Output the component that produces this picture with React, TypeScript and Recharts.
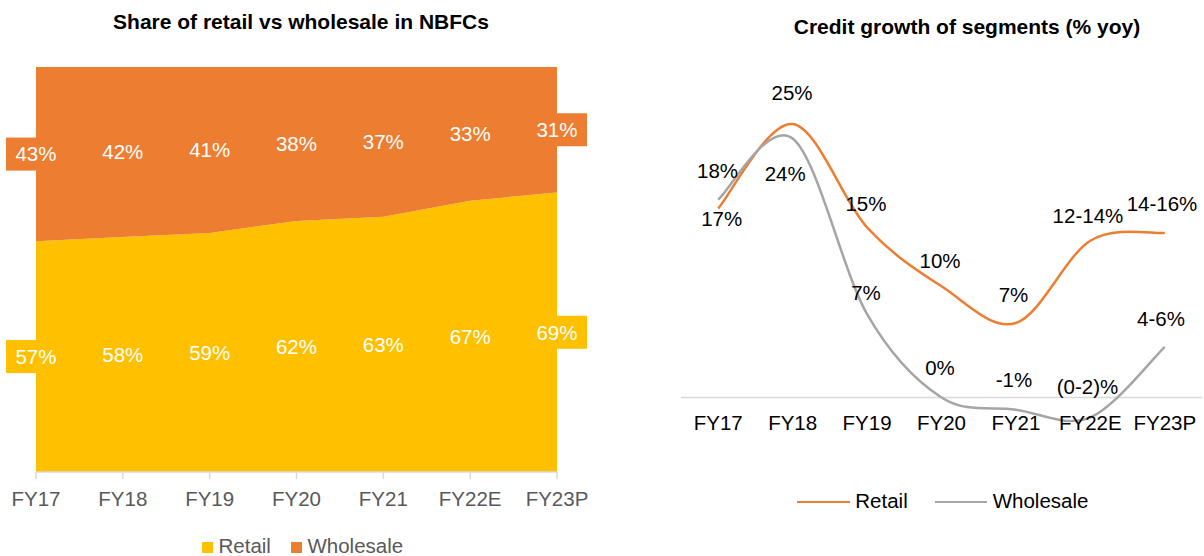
import React from 'react';
import { ComposedChart, Area, Line, XAxis, YAxis, Legend, LabelList, ReferenceLine } from 'recharts';

// ---------- data ----------
const years = ['FY17', 'FY18', 'FY19', 'FY20', 'FY21', 'FY22E', 'FY23P'];
const retailShare = [57, 58, 59, 62, 63, 67, 69];
const wholesaleShare = [43, 42, 41, 38, 37, 33, 31];

const retailGrowth = [17, 24.6, 15.3, 10, 6.7, 14.1, 14.8];
const wholesaleGrowth = [17.8, 23.3, 7.5, 0, -1.1, -1.8, 4.55];
const retailGrowthLabels = ['17%', '25%', '15%', '10%', '7%', '12-14%', '14-16%'];
const wholesaleGrowthLabels = ['18%', '24%', '7%', '0%', '-1%', '(0-2)%', '4-6%'];

const shareData = years.map((y, i) => ({
  year: y,
  retail: retailShare[i],
  wholesale: wholesaleShare[i],
  retailMid: retailShare[i] / 2,
  wholesaleMid: retailShare[i] + wholesaleShare[i] / 2,
}));

const growthData = years.map((y, i) => ({
  year: y,
  retail: retailGrowth[i],
  wholesale: wholesaleGrowth[i],
}));

// ---------- styles ----------
const FONT = "'Liberation Sans', Arial, sans-serif";
const YELLOW = '#FFC000';
const ORANGE = '#ED7D31';
const GRAY = '#A5A5A5';
const AXIS = '#D9D9D9';
const FS = 20.5;

// label placement (dx, dy of text centre relative to the point)
const retailLabelOffset: [number, number][] = [[3.5, 10.5], [-0.6, -31], [-1.1, -23.7], [-1.5, -25.6], [-2.4, -28.4], [-2.4, -25.2], [-2.8, -28.9]];
const wholesaleLabelOffset: [number, number][] = [[-0.7, -28.9], [-7.5, 35.6], [-1.1, -21], [-1.5, -29.9], [-1.9, -29.6], [-2.9, -30.7], [-3.8, -28.1]];

// Excel-like smoothed line (Catmull-Rom through points)
const excelSmooth: any = (context: any) => {
  let pts: [number, number][] = [];
  return {
    areaStart() {},
    areaEnd() {},
    lineStart() { pts = []; },
    point(x: number, y: number) { pts.push([+x, +y]); },
    lineEnd() {
      if (!pts.length) return;
      context.moveTo(pts[0][0], pts[0][1]);
      for (let i = 0; i < pts.length - 1; i++) {
        const p0 = pts[Math.max(0, i - 1)];
        const p1 = pts[i];
        const p2 = pts[i + 1];
        const p3 = pts[Math.min(pts.length - 1, i + 2)];
        context.bezierCurveTo(
          p1[0] + (p2[0] - p0[0]) / 6, p1[1] + (p2[1] - p0[1]) / 6,
          p2[0] - (p3[0] - p1[0]) / 6, p2[1] - (p3[1] - p1[1]) / 6,
          p2[0], p2[1]
        );
      }
    },
  };
};

const px = (p: any) => (p.x ?? p.viewBox?.x) as number;
const py = (p: any) => (p.y ?? p.viewBox?.y) as number;

const makeShareLabel = (values: number[], fill: string) => (p: any) => {
  const x = px(p);
  const y = py(p);
  const i = p.index;
  return (
    <g key={`sl-${fill}-${i}`}>
      <rect x={x - 30} y={y - 16.5} width={60} height={33} fill={fill} />
      <text x={x} y={y + 7.3} textAnchor="middle" fill="#FFFFFF" fontSize={FS} fontFamily={FONT}>
        {values[i]}%
      </text>
    </g>
  );
};

const makeGrowthLabel = (labels: string[], offsets: [number, number][]) => (p: any) => {
  const x = px(p);
  const y = py(p);
  const i = p.index;
  const [dx, dy] = offsets[i];
  return (
    <text key={`gl-${labels[i]}-${i}`} x={x + dx} y={y + dy + 7.3} textAnchor="middle" fill="#000000" fontSize={FS} fontFamily={FONT}>
      {labels[i]}
    </text>
  );
};

const ShareLegend = () => (
  <div style={{ display: 'flex', alignItems: 'flex-start', fontFamily: FONT, fontSize: FS, lineHeight: '24px', color: '#595959', whiteSpace: 'nowrap' }}>
    <span style={{ width: 11, height: 11, background: YELLOW, marginTop: 8, marginRight: 5.5 }} />
    <span style={{ marginRight: 20 }}>Retail</span>
    <span style={{ width: 11, height: 11, background: ORANGE, marginTop: 8, marginRight: 5.5 }} />
    <span>Wholesale</span>
  </div>
);

const GrowthLegend = () => (
  <div style={{ display: 'flex', alignItems: 'flex-start', fontFamily: FONT, fontSize: FS, lineHeight: '24px', color: '#000000', whiteSpace: 'nowrap' }}>
    <span style={{ width: 53, height: 2.5, background: ORANGE, marginTop: 11.5, marginRight: 5 }} />
    <span style={{ marginRight: 27 }}>Retail</span>
    <span style={{ width: 52, height: 2.5, background: GRAY, marginTop: 11.5, marginRight: 6 }} />
    <span>Wholesale</span>
  </div>
);

export default function App() {
  return (
    <div style={{ position: 'absolute', left: 0, top: 0, width: 1204, height: 556, overflow: 'hidden', background: '#FFFFFF', fontFamily: FONT }}>
      {/* Left chart */}
      <div style={{ position: 'absolute', left: 0, top: 10, width: 602, textAlign: 'center', fontWeight: 'bold', fontSize: 21, lineHeight: '24px', color: '#000' }}>
        Share of retail vs wholesale in NBFCs
      </div>
      <div style={{ position: 'absolute', left: 0, top: 0 }}>
        <ComposedChart width={600} height={556} data={shareData} margin={{ top: 67, right: 43, bottom: 44, left: 36 }} style={{ fontFamily: FONT }}>
          <XAxis
            dataKey="year"
            interval={0}
            height={40}
            tickSize={7}
            tickMargin={12}
            axisLine={{ stroke: AXIS, strokeWidth: 1.5 }}
            tickLine={{ stroke: AXIS, strokeWidth: 1.5 }}
            tick={{ fill: '#595959', fontSize: FS }}
          />
          <YAxis hide domain={[0, 100]} type="number" allowDataOverflow />
          <Area dataKey="retail" stackId="s" type="linear" stroke="none" fill={YELLOW} fillOpacity={1} isAnimationActive={false} activeDot={false} />
          <Area dataKey="wholesale" stackId="s" type="linear" stroke="none" fill={ORANGE} fillOpacity={1} isAnimationActive={false} activeDot={false} />
          <Line dataKey="retailMid" stroke="none" dot={false} activeDot={false} isAnimationActive={false} legendType="none">
            <LabelList dataKey="retailMid" content={makeShareLabel(retailShare, YELLOW)} />
          </Line>
          <Line dataKey="wholesaleMid" stroke="none" dot={false} activeDot={false} isAnimationActive={false} legendType="none">
            <LabelList dataKey="wholesaleMid" content={makeShareLabel(wholesaleShare, ORANGE)} />
          </Line>
          <Legend
            layout="horizontal"
            verticalAlign="middle"
            align="center"
            wrapperStyle={{ left: 202, top: 533.6, width: 260 }}
            content={() => <ShareLegend />}
          />
        </ComposedChart>
      </div>

      {/* Right chart */}
      <div style={{ position: 'absolute', left: 767, top: 15, width: 400, textAlign: 'center', fontWeight: 'bold', fontSize: 21, lineHeight: '24px', color: '#000' }}>
        Credit growth of segments (% yoy)
      </div>
      <div style={{ position: 'absolute', left: 602, top: 0 }}>
        <ComposedChart width={602} height={556} data={growthData} margin={{ top: 64, right: 2, bottom: 73, left: 79 }} style={{ fontFamily: FONT }}>
          <XAxis
            dataKey="year"
            scale="band"
            interval={0}
            height={30}
            axisLine={false}
            tickLine={false}
            tickSize={0}
            tickMargin={0}
            tick={(p: any) => (
              <text key={`t-${p.index}`} x={p.x} y={p.y - 22.7} textAnchor="middle" fill="#000000" fontSize={FS} fontFamily={FONT}>
                {p.payload.value}
              </text>
            )}
          />
          <YAxis hide domain={[-5, 30]} type="number" allowDataOverflow />
          <ReferenceLine y={0} stroke={AXIS} strokeWidth={1.5} />
          <Line dataKey="retail" type={excelSmooth} stroke={ORANGE} strokeWidth={2.5} dot={false} activeDot={false} isAnimationActive={false}>
            <LabelList dataKey="retail" content={makeGrowthLabel(retailGrowthLabels, retailLabelOffset)} />
          </Line>
          <Line dataKey="wholesale" type={excelSmooth} stroke={GRAY} strokeWidth={2.5} dot={false} activeDot={false} isAnimationActive={false}>
            <LabelList dataKey="wholesale" content={makeGrowthLabel(wholesaleGrowthLabels, wholesaleLabelOffset)} />
          </Line>
          <Legend
            layout="horizontal"
            verticalAlign="middle"
            align="center"
            wrapperStyle={{ left: 195.3, top: 489.2, width: 320 }}
            content={() => <GrowthLegend />}
          />
        </ComposedChart>
      </div>
    </div>
  );
}
